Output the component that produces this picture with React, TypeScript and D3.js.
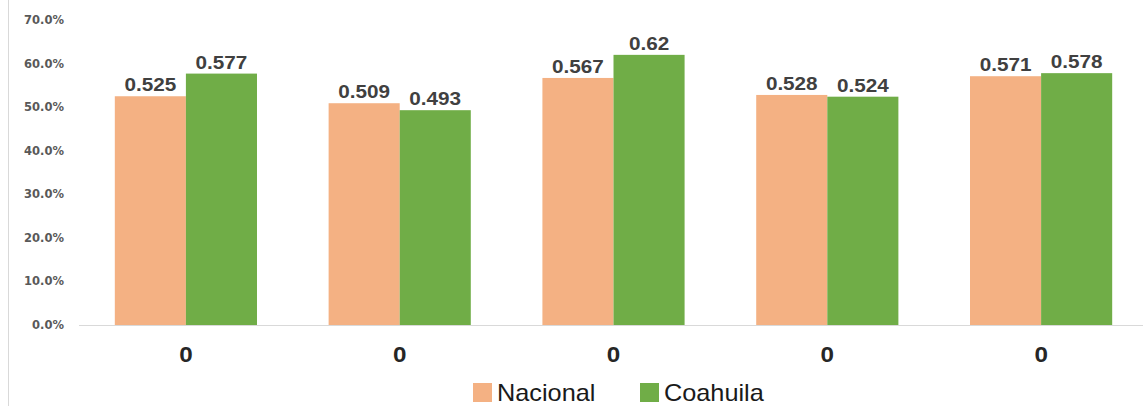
import { useMemo } from 'react';
import * as d3 from 'd3';

const categories = ['0', '0', '0', '0', '0'];
const series = ['Nacional', 'Coahuila'];
const nacional = [0.525, 0.509, 0.567, 0.528, 0.571];
const coahuila = [0.577, 0.493, 0.62, 0.524, 0.578];
const yTicks = [0, 0.1, 0.2, 0.3, 0.4, 0.5, 0.6, 0.7];
const colors = ['#F4B183', '#70AD47'];

const WIDTH = 1143;
const HEIGHT = 406;
const PLOT = { left: 79, right: 1148, top: 20, bottom: 325 };
const FONT = '"Liberation Sans", Arial, sans-serif';
const TICK_FONT = '"DejaVu Sans", Verdana, sans-serif';

// the source picture is a bit stretched sideways, so text is widened a touch
function Stretched({
  x,
  y,
  sx,
  children,
  ...rest
}: {
  x: number;
  y: number;
  sx: number;
  children: React.ReactNode;
  [k: string]: unknown;
}) {
  return (
    <text transform={`translate(${x},${y}) scale(${sx},1)`} {...rest}>
      {children}
    </text>
  );
}

export default function App() {
  const { x0, x1, y } = useMemo(() => {
    const x0 = d3
      .scaleBand<number>()
      .domain(categories.map((_, i) => i))
      .range([PLOT.left, PLOT.right])
      .paddingInner(0.335)
      .paddingOuter(0.1675);
    const x1 = d3.scaleBand<string>().domain(series).range([0, x0.bandwidth()]);
    const y = d3.scaleLinear().domain([0, 0.7]).range([PLOT.bottom, PLOT.top]);
    return { x0, x1, y };
  }, []);

  const values = [nacional, coahuila];

  return (
    <svg
      width={WIDTH}
      height={HEIGHT}
      style={{ position: 'absolute', left: 0, top: 0, background: '#fff' }}
      fontFamily={FONT}
    >
      {/* left border */}
      <line x1={8.5} y1={0} x2={8.5} y2={HEIGHT} stroke="#d9d9d9" strokeWidth={1} />

      {/* y tick labels */}
      {yTicks.map((t) => (
        <text
          key={t}
          x={64}
          y={y(t)}
          dy="0.35em"
          textAnchor="end"
          fontFamily={TICK_FONT}
          fontSize={11.5}
          fontWeight={700}
          fill="#595959"
        >
          {d3.format('.1%')(t)}
        </text>
      ))}

      {/* bars */}
      {categories.map((_, i) => (
        <g key={i} transform={`translate(${x0(i)},0)`}>
          {series.map((s, j) => {
            const v = values[j][i];
            const bx = x1(s) ?? 0;
            return (
              <g key={s}>
                <rect
                  x={bx}
                  y={y(v)}
                  width={x1.bandwidth()}
                  height={y(0) - y(v)}
                  fill={colors[j]}
                />
                <Stretched
                  x={bx + x1.bandwidth() / 2}
                  y={y(v) - 5}
                  sx={1.15}
                  textAnchor="middle"
                  fontSize={18}
                  fontWeight={700}
                  fill="#404040"
                >
                  {String(v)}
                </Stretched>
              </g>
            );
          })}
        </g>
      ))}

      {/* baseline */}
      <line
        x1={PLOT.left}
        y1={y(0) + 0.5}
        x2={WIDTH}
        y2={y(0) + 0.5}
        stroke="#d9d9d9"
        strokeWidth={1}
      />

      {/* category labels */}
      {categories.map((c, i) => (
        <Stretched
          key={i}
          x={(x0(i) ?? 0) + x0.bandwidth() / 2}
          y={362}
          sx={1.1}
          textAnchor="middle"
          fontSize={22}
          fontWeight={700}
          fill="#262626"
        >
          {c}
        </Stretched>
      ))}

      {/* legend */}
      {series.map((s, j) => {
        const lx = j === 0 ? 473 : 640;
        return (
          <g key={s} transform={`translate(${lx},383)`}>
            <rect x={0} y={0} width={19} height={19} fill={colors[j]} />
            <Stretched x={24} y={18} sx={1.1} fontSize={23} fill="#1a1a1a">
              {s}
            </Stretched>
          </g>
        );
      })}
    </svg>
  );
}
